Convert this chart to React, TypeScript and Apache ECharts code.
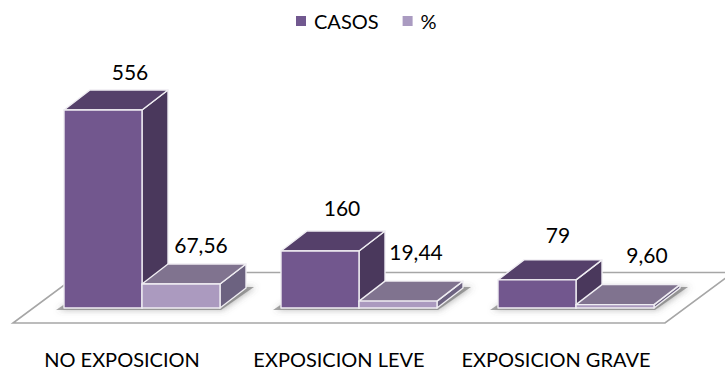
import React, { useEffect, useRef } from "react";
import * as echarts from "echarts";

const categories = ["NO EXPOSICION", "EXPOSICION LEVE", "EXPOSICION GRAVE"];
const casos = [556, 160, 79];
const porcentaje = [67.56, 19.44, 9.6];
const casosLabels = ["556", "160", "79"];
const porcentajeLabels = ["67,56", "19,44", "9,60"];

const DEPTH_X = 26;
const DEPTH_Y = 20;
const BAR_WIDTH = 78;
const FONT = "Lato, sans-serif";
const casosNudge = [[27, -39], [22, -44], [21, -45]];
const pctNudge = [[20, -39], [18, -50], [32, -50]];

function cuboid(
  side: number,
  colors: { front: string; top: string; side: string },
  labels: string[],
  nudge: number[][]
) {
  return (params: any, api: any) => {
    const i = api.value(0);
    const [cx, y0] = api.coord([i, 0]);
    const [, y1] = api.coord([i, api.value(1)]);
    const x0 = cx + (side < 0 ? -BAR_WIDTH : 0);
    const x1 = x0 + BAR_WIDTH;
    const edge = { stroke: "#efedf2", lineWidth: 1.4, lineJoin: "round" };
    const poly = (points: number[][], fill: string) => ({
      type: "polygon",
      shape: { points },
      style: { fill, ...edge },
    });
    return {
      type: "group",
      children: [
        poly(
          [
            [x1, y1],
            [x1 + DEPTH_X, y1 - DEPTH_Y],
            [x1 + DEPTH_X, y0 - DEPTH_Y],
            [x1, y0],
          ],
          colors.side
        ),
        poly(
          [
            [x0, y1],
            [x0 + DEPTH_X, y1 - DEPTH_Y],
            [x1 + DEPTH_X, y1 - DEPTH_Y],
            [x1, y1],
          ],
          colors.top
        ),
        poly(
          [
            [x0, y1],
            [x1, y1],
            [x1, y0],
            [x0, y0],
          ],
          colors.front
        ),
        {
          type: "text",
          x: (x0 + x1) / 2 + nudge[i][0],
          y: y1 + nudge[i][1],
          style: {
            text: labels[i],
            fill: "#000",
            font: `21px ${FONT}`,
            align: "center",
            verticalAlign: "middle",
          },
        },
      ],
    };
  };
}

function floorShadow(params: any, api: any) {
  const i = api.value(0);
  const [cx, y0] = api.coord([i, 0]);
  const x0 = cx - BAR_WIDTH;
  const x1 = cx + BAR_WIDTH;
  return {
    type: "polygon",
    shape: {
      points: [
        [x0 - 8, y0 + 2],
        [x1 + 1, y0 + 2],
        [x1 + DEPTH_X + 8, y0 - DEPTH_Y - 1],
        [x0 + DEPTH_X, y0 - DEPTH_Y - 1],
      ],
    },
    style: {
      fill: "rgba(110,110,110,0.6)",
      shadowBlur: 6,
      shadowColor: "rgba(90,90,90,0.7)",
      shadowOffsetX: 2,
      shadowOffsetY: 0,
    },
  };
}

export default function App() {
  const ref = useRef<HTMLDivElement>(null);
  useEffect(() => {
    const chart = echarts.init(ref.current!, undefined, { renderer: "svg" });
    chart.setOption({
      animation: false,
      backgroundColor: "#fff",
      legend: {
        top: 11,
        left: 296,
        padding: 0,
        itemWidth: 10,
        itemHeight: 10,
        itemGap: 24,
        icon: "rect",
        textStyle: { fontFamily: FONT, fontSize: 20, color: "#000", padding: [0, 0, 0, 3] },
        data: [
          { name: "CASOS", itemStyle: { color: "#71588f" } },
          { name: "%", itemStyle: { color: "#aa9bc1" } },
        ],
      },
      graphic: [
        {
          type: "polygon",
          z: -1,
          shape: {
            points: [
              [13, 323],
              [665, 323],
              [733, 272.5],
              [81, 272.5],
            ],
          },
          style: { fill: "#fff", stroke: "#a6a6a6", lineWidth: 1.6 },
        },
      ],
      grid: { left: 33.5, width: 651, top: 94.4, height: 213.6 },
      xAxis: {
        type: "category",
        data: categories,
        axisLine: { show: false },
        axisTick: { show: false },
        axisLabel: {
          interval: 0,
          margin: 43,
          lineHeight: 16,
          padding: [0, 40, 0, 0],
          color: "#000",
          fontFamily: FONT,
          fontSize: 20,
        },
      },
      yAxis: { type: "value", min: 0, max: 600, show: false },
      series: [
        {
          name: "sombra",
          type: "custom",
          z: 1,
          silent: true,
          renderItem: floorShadow,
          encode: { x: 0, y: 1 },
          data: casos.map((v, i) => [i, 0]),
          clip: false,
        },
        {
          name: "CASOS",
          type: "custom",
          z: 2,
          renderItem: cuboid(-1, { front: "#72578e", top: "#55406a", side: "#4a385c" }, casosLabels, casosNudge),
          encode: { x: 0, y: 1 },
          data: casos.map((v, i) => [i, v]),
          clip: false,
        },
        {
          name: "%",
          type: "custom",
          z: 3,
          renderItem: cuboid(1, { front: "#ab9abf", top: "#80738f", side: "#6c6280" }, porcentajeLabels, pctNudge),
          encode: { x: 0, y: 1 },
          data: porcentaje.map((v, i) => [i, v]),
          clip: false,
        },
      ],
    });
    return () => chart.dispose();
  }, []);
  return <div ref={ref} style={{ position: "fixed", left: 0, top: 0, width: 725, height: 371 }} />;
}
